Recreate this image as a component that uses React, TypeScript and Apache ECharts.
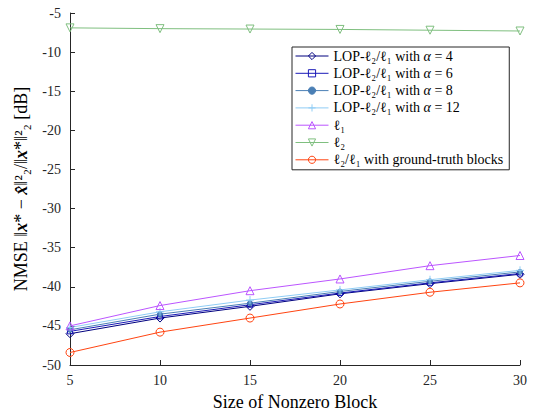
import React, { useEffect, useRef } from "react";
import * as echarts from "echarts";

const blockSizes = [5, 10, 15, 20, 25, 30];
const lopA4 = [-46.0, -44.0, -42.5, -40.9, -39.6, -38.4];
const lopA6 = [-45.7, -43.8, -42.3, -40.8, -39.5, -38.3];
const lopA8 = [-45.5, -43.5, -42.1, -40.6, -39.3, -38.1];
const lopA12 = [-45.2, -43.2, -41.7, -40.4, -39.1, -37.9];
const l1 = [-45.0, -42.4, -40.5, -39.0, -37.3, -36.0];
const l2 = [-6.9, -7.0, -7.05, -7.1, -7.2, -7.3];
const gt = [-48.4, -45.8, -44.0, -42.2, -40.7, -39.5];

const SERIF = "Liberation Serif";

const seriesDefs = [
  { id: "a4", data: lopA4, color: "#00007f", symbol: "diamond", size: 8, filled: false, label: "{r|LOP-ℓ₂/ℓ₁ with }{i|α}{r| = 4}" },
  { id: "a6", data: lopA6, color: "#1a1ab8", symbol: "rect", size: 5, filled: false, label: "{r|LOP-ℓ₂/ℓ₁ with }{i|α}{r| = 6}" },
  { id: "a8", data: lopA8, color: "#4a7fb5", symbol: "circle", size: 5, filled: true, label: "{r|LOP-ℓ₂/ℓ₁ with }{i|α}{r| = 8}" },
  { id: "a12", data: lopA12, color: "#8fcdf5", symbol: "path://M5,0 L5,10 M0,5 L10,5", size: 8, filled: false, label: "{r|LOP-ℓ₂/ℓ₁ with }{i|α}{r| = 12}" },
  { id: "l1", data: l1, color: "#bb55ff", symbol: "triangle", size: 8, filled: false, label: "{r|ℓ₁}" },
  { id: "l2", data: l2, color: "#7fbf7f", symbol: "path://M0,0 L10,0 L5,8.66 Z", size: 8, filled: false, label: "{r|ℓ₂}" },
  { id: "gt", data: gt, color: "#ff4411", symbol: "circle", size: 8, filled: false, label: "{r|ℓ₂/ℓ₁ with ground-truth blocks}" },
];

export default function App() {
  const ref = useRef<HTMLDivElement>(null);
  useEffect(() => {
    if (!ref.current) return;
    const chart = echarts.init(ref.current, null, { renderer: "svg" });
    const labelMap: Record<string, string> = {};
    seriesDefs.forEach((s) => (labelMap[s.id] = s.label));
    chart.setOption({
      animation: false,
      backgroundColor: "#ffffff",
      textStyle: { fontFamily: SERIF },
      grid: { left: 70, right: 16, top: 13, bottom: 49, containLabel: false },
      legend: {
        orient: "vertical",
        left: 292,
        top: 47,
        itemWidth: 33,
        itemHeight: 9,
        itemGap: 3.3,
        padding: [2, 6, 3, 3],
        borderColor: "#262626",
        borderWidth: 1,
        backgroundColor: "#ffffff",
        borderRadius: 0,
        lineStyle: { width: 1 },
        itemStyle: { borderWidth: 1 },
        data: seriesDefs.map((s) => s.id),
        formatter: (name: string) => labelMap[name],
        textStyle: {
          fontFamily: SERIF,
          fontSize: 14,
          lineHeight: 13,
          color: "#000",
          rich: {
            r: { fontFamily: SERIF, fontSize: 14, lineHeight: 13, color: "#000" },
            i: { fontFamily: SERIF, fontStyle: "italic", fontSize: 14, lineHeight: 13, color: "#000" },
          },
        },
      },
      xAxis: {
        type: "value",
        min: 5,
        max: 30,
        interval: 5,
        name: "Size of Nonzero Block",
        nameLocation: "middle",
        nameGap: 28,
        nameTextStyle: { fontFamily: SERIF, fontSize: 18, color: "#000" },
        axisLine: { show: true, lineStyle: { color: "#262626", width: 1 } },
        axisTick: { show: true, inside: true, length: 5, lineStyle: { color: "#262626" } },
        axisLabel: { fontFamily: SERIF, fontSize: 14, color: "#262626", margin: 8 },
        splitLine: { show: false },
      },
      yAxis: {
        type: "value",
        min: -50,
        max: -5,
        interval: 5,
        name: "{n|NMSE ‖}{b|x}{n|* − }{b|x̂}{n|‖²₂/‖}{b|x}{n|*‖²₂ [dB]}",
        nameLocation: "middle",
        nameGap: 40,
        nameTextStyle: {
          fontFamily: SERIF,
          fontSize: 18,
          color: "#000",
          rich: {
            n: { fontFamily: SERIF, fontSize: 18, color: "#000" },
            b: { fontFamily: SERIF, fontSize: 18, color: "#000", fontStyle: "italic", fontWeight: "bold" },
          },
        },
        axisLine: { show: true, lineStyle: { color: "#262626", width: 1 } },
        axisTick: { show: true, inside: true, length: 5, lineStyle: { color: "#262626" } },
        axisLabel: { fontFamily: SERIF, fontSize: 14, color: "#262626", margin: 9 },
        splitLine: { show: false },
      },
      series: seriesDefs.map((s) => ({
        type: "line",
        name: s.id,
        data: blockSizes.map((x, i) => [x, s.data[i]]),
        symbol: s.symbol,
        symbolSize: s.size,
        showSymbol: true,
        lineStyle: { color: s.color, width: 1 },
        itemStyle: {
          color: s.filled ? s.color : "#ffffff00",
          borderColor: s.color,
          borderWidth: 1,
        },
        emphasis: { disabled: true },
      })),
    });
    return () => chart.dispose();
  }, []);
  return <div ref={ref} style={{ position: "fixed", left: 0, top: 0, width: 536, height: 416 }} />;
}
